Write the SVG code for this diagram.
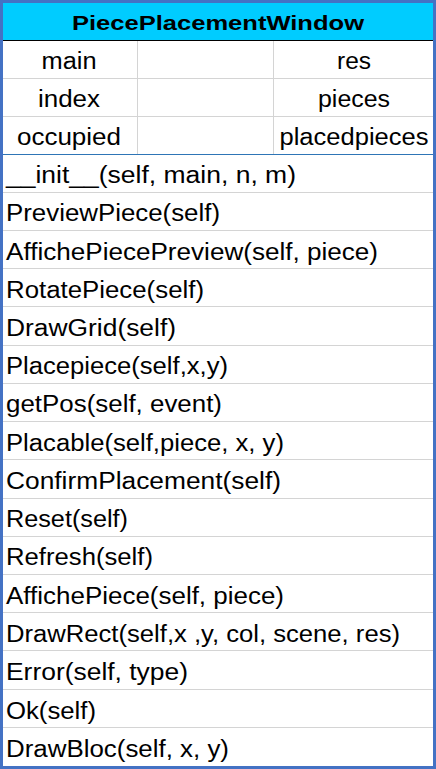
<svg xmlns="http://www.w3.org/2000/svg" width="436" height="769" viewBox="0 0 436 769">
  <style>
    .txt { font-family: "Liberation Sans", Arial, sans-serif; font-size: 23px; fill: #000; }
    .title { font-family: "Liberation Sans", Arial, sans-serif; font-size: 21px; font-weight: bold; fill: #000; }
    .mid { text-anchor: middle; }
    .grid { stroke: #D4D4D4; stroke-width: 1; fill: none; }
  </style>
  <g id="PiecePlacementWindow">
    <!-- background and header band -->
    <rect x="0" y="0" width="436" height="769" fill="#FFFFFF"/>
    <rect x="3" y="3" width="430" height="37" fill="#00CCFF"/>
    <text class="title mid" x="218" y="30" textLength="292" lengthAdjust="spacingAndGlyphs">PiecePlacementWindow</text>

    <!-- attribute grid -->
    <g id="attributes">
      <path class="grid" d="M3 78.5H433M3 116.5H433M137.5 40V154M273.5 40V154"/>
      <text class="txt mid" x="69" y="68.5" textLength="55" lengthAdjust="spacingAndGlyphs">main</text>
      <text class="txt mid" x="69" y="106.5" textLength="62" lengthAdjust="spacingAndGlyphs">index</text>
      <text class="txt mid" x="69" y="144.5" textLength="104" lengthAdjust="spacingAndGlyphs">occupied</text>
      <text class="txt mid" x="354" y="68.5" textLength="34" lengthAdjust="spacingAndGlyphs">res</text>
      <text class="txt mid" x="354" y="106.5" textLength="72" lengthAdjust="spacingAndGlyphs">pieces</text>
      <text class="txt mid" x="354" y="144.5" textLength="149" lengthAdjust="spacingAndGlyphs">placedpieces</text>
    </g>

    <!-- header / section rules -->
    <line x1="3" y1="40.5" x2="433" y2="40.5" stroke="#000000" stroke-width="1"/>
    <line x1="3" y1="154.5" x2="433" y2="154.5" stroke="#2E75B6" stroke-width="1.2"/>

    <!-- method rows -->
    <g id="methods">
      <path class="grid" d="M3 192.5H433M3 230.5H433M3 268.5H433M3 306.5H433M3 345.5H433M3 383.5H433M3 421.5H433M3 459.5H433M3 498.5H433M3 536.5H433M3 574.5H433M3 612.5H433M3 650.5H433M3 689.5H433M3 727.5H433"/>
      <text class="txt" x="6" y="183" textLength="290" lengthAdjust="spacingAndGlyphs">__init__(self, main, n, m)</text>
      <text class="txt" x="6" y="221" textLength="214" lengthAdjust="spacingAndGlyphs">PreviewPiece(self)</text>
      <text class="txt" x="6" y="259.5" textLength="372" lengthAdjust="spacingAndGlyphs">AffichePiecePreview(self, piece)</text>
      <text class="txt" x="6" y="297.5" textLength="198" lengthAdjust="spacingAndGlyphs">RotatePiece(self)</text>
      <text class="txt" x="6" y="336" textLength="170" lengthAdjust="spacingAndGlyphs">DrawGrid(self)</text>
      <text class="txt" x="6" y="374" textLength="222" lengthAdjust="spacingAndGlyphs">Placepiece(self,x,y)</text>
      <text class="txt" x="6" y="412" textLength="216" lengthAdjust="spacingAndGlyphs">getPos(self, event)</text>
      <text class="txt" x="6" y="450.5" textLength="278" lengthAdjust="spacingAndGlyphs">Placable(self,piece, x, y)</text>
      <text class="txt" x="6" y="488.5" textLength="275" lengthAdjust="spacingAndGlyphs">ConfirmPlacement(self)</text>
      <text class="txt" x="6" y="527" textLength="122" lengthAdjust="spacingAndGlyphs">Reset(self)</text>
      <text class="txt" x="6" y="565" textLength="147" lengthAdjust="spacingAndGlyphs">Refresh(self)</text>
      <text class="txt" x="6" y="603.5" textLength="278" lengthAdjust="spacingAndGlyphs">AffichePiece(self, piece)</text>
      <text class="txt" x="6" y="641.5" textLength="394" lengthAdjust="spacingAndGlyphs">DrawRect(self,x ,y, col, scene, res)</text>
      <text class="txt" x="6" y="680" textLength="182" lengthAdjust="spacingAndGlyphs">Error(self, type)</text>
      <text class="txt" x="6" y="718.5" textLength="90" lengthAdjust="spacingAndGlyphs">Ok(self)</text>
      <text class="txt" x="6" y="756.5" textLength="223" lengthAdjust="spacingAndGlyphs">DrawBloc(self, x, y)</text>
    </g>

    <!-- outer frame -->
    <rect x="1.5" y="1.5" width="433" height="766" fill="none" stroke="#4472C4" stroke-width="3"/>
  </g>
  <g id="connectors"/>
</svg>
